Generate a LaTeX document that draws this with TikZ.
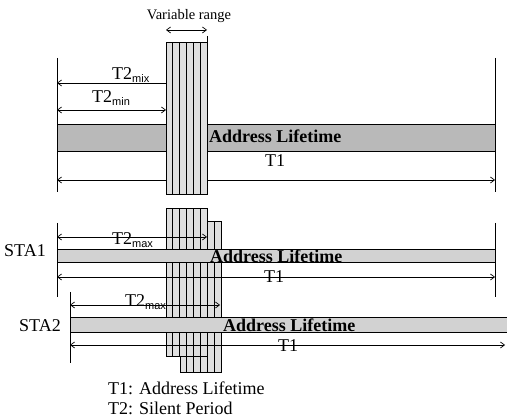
\documentclass[tikz,border=0pt]{standalone}
\usepackage{fontspec}
\setmainfont{Liberation Serif}
\newfontfamily\subfont{Liberation Sans}
\usetikzlibrary{arrows.meta,calc}
\tikzset{
  tip/.tip={Straight Barb[length=4pt,width=6pt]},
  dimline/.style={line width=0.7pt, tip-tip},
  dimleft/.style={line width=0.7pt, tip-},
  frame/.style={line width=1pt},
  barA/.style={draw=black, line width=1pt, fill=gray!55, inner sep=0pt, outer sep=0pt, anchor=north west},
  barB/.style={draw=black, line width=1pt, fill=gray!35, inner sep=0pt, outer sep=0pt, anchor=north west},
  colbox/.style={draw=black, line width=1pt, fill=gray!25, inner sep=0pt, outer sep=0pt, anchor=north west},
  strip/.style={line width=1pt},
  lbl/.style={inner sep=0pt, font=\fontsize{18}{18}\selectfont},
  lifelbl/.style={inner sep=0pt, font=\fontsize{18}{18}\selectfont\bfseries, anchor=base west},
}
\newcommand{\sbx}[1]{\raisebox{-2.5pt}{\subfont\fontsize{11}{11}\selectfont #1}}
\begin{document}
\begin{tikzpicture}[x=1pt,y=-1pt]
\useasboundingbox (0,0) rectangle (507,417);

% ---------- top section ----------
\node[inner sep=0pt, font=\fontsize{14.5}{14.5}\selectfont, anchor=base] (vr) at (189,20) {Variable range};
\coordinate (vrL) at (166,30);
\coordinate (vrR) at (207,30);
\draw[dimline] (vrL) -- (vrR);

\coordinate (tLa) at (57,58);  \coordinate (tLb) at (57,192);
\coordinate (tRa) at (495,58); \coordinate (tRb) at (495,192);
\draw[frame] (tLa) -- (tLb);
\draw[frame] (tRa) -- (tRb);

\node[barA, minimum width=438pt, minimum height=27pt] (bar0) at (57,125) {};

\coordinate (mixL) at (57,83);  \coordinate (mixR) at (166,83);
\coordinate (minL) at (57,110); \coordinate (minR) at (166,110);
\coordinate (t1L) at (57,180);  \coordinate (t1R) at (495,180);
\draw[dimleft] (mixL) -- (mixR);
\draw[dimline] (minL) -- (minR);
\draw[dimline] (t1L) -- (t1R);

\node[colbox, minimum width=41pt, minimum height=152pt] (col0) at (166,43) {};
\foreach \i in {1,...,5}{
  \draw[strip] ($(166,43)+(\i*6.83,0)$) -- ($(166,195)+(\i*6.83,0)$);
}
\coordinate (tick) at (207,36);
\draw[strip] (tick) -- (col0.north east);

\node[lbl, anchor=base west] (mix) at (112,80) {T2\sbx{mix}};
\node[lbl, anchor=base west] (min) at (92,103) {T2\sbx{min}};
\node[lbl, anchor=base] (t1a) at (275,167) {T1};
\node[lifelbl] (al0) at (209,143) {Address Lifetime};

% ---------- bottom columns ----------
\node[colbox, minimum width=41pt, minimum height=151pt] (col2) at (180,222) {};
\foreach \i in {1,...,5}{
  \draw[strip] ($(180,222)+(\i*6.83,0)$) -- ($(180,373)+(\i*6.83,0)$);
}
\node[colbox, minimum width=41pt, minimum height=148pt] (col1) at (166,209) {};
\foreach \i in {1,...,5}{
  \draw[strip] ($(166,209)+(\i*6.83,0)$) -- ($(166,357)+(\i*6.83,0)$);
}

% ---------- STA1 ----------
\node[lbl, anchor=base west] (sta1) at (4,257) {STA1};
\coordinate (s1La) at (57,223);  \coordinate (s1Lb) at (57,297);
\coordinate (s1Ra) at (495,223); \coordinate (s1Rb) at (495,297);
\draw[frame] (s1La) -- (s1Lb);
\draw[frame] (s1Ra) -- (s1Rb);
\node[barB, minimum width=438pt, minimum height=13pt] (bar1) at (57,250) {};
\coordinate (m1L) at (57,237);  \coordinate (m1R) at (207,237);
\coordinate (u1L) at (57,277);  \coordinate (u1R) at (495,277);
\draw[dimline] (m1L) -- (m1R);
\draw[dimline] (u1L) -- (u1R);
\node[lbl, anchor=base west] (max1) at (112,245) {T2\sbx{max}};
\node[lifelbl] (al1) at (210,263) {Address Lifetime};
\node[lbl, anchor=base] (t1b) at (274,283) {T1};

% ---------- STA2 ----------
\node[lbl, anchor=base west] (sta2) at (19,332) {STA2};
\coordinate (s2La) at (70,292);  \coordinate (s2Lb) at (70,363);
\draw[frame] (s2La) -- (s2Lb);
\node[barB, minimum width=437pt, minimum height=15pt] (bar2) at (70,318) {};
\coordinate (m2L) at (70,305);  \coordinate (m2R) at (220,305);
\coordinate (u2L) at (70,345);  \coordinate (u2R) at (505,345);
\draw[dimline] (m2L) -- (m2R);
\draw[dimline] (u2L) -- (u2R);
\node[lbl, anchor=base west] (max2) at (125,307) {T2\sbx{max}};
\node[lifelbl] (al2) at (223,332) {Address Lifetime};
\node[lbl, anchor=base] (t1c) at (288,352) {T1};

% ---------- legend ----------
\node[lbl, anchor=base west] (leg1) at (108,395) {T1: Address Lifetime};
\node[lbl, anchor=base west] (leg2) at (108,414) {T2: Silent Period};
\end{tikzpicture}
\end{document}
